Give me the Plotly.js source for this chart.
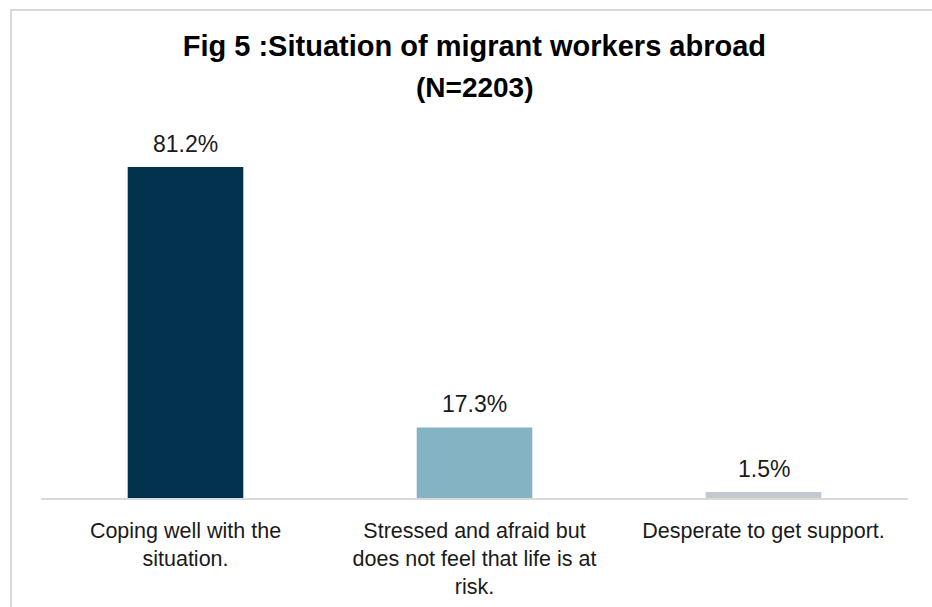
<!DOCTYPE html>
<html><head><meta charset="utf-8">
<script src="https://cdn.plot.ly/plotly-3.0.1.min.js"></script>
<style>html,body{margin:0;padding:0;background:#fff;}#chart{width:932px;height:607px;}</style>
</head><body><div id="chart"></div>
<script>
const categories = ["Coping well with the<br>situation.", "Stressed and afraid but<br>does not feel that life is at<br>risk.", "Desperate to get support."];
const values = [81.2, 17.3, 1.5];
const labels = ["81.2%", "17.3%", "1.5%"];
const colors = ["#03324E", "#84B3C4", "#C3C9CE"];
const titleLine1 = "Fig 5 :Situation of migrant workers abroad";
const titleLine2 = "(N=2203)";

const FONT = "Arial, 'Liberation Sans', sans-serif";
const trace = {
  type: "bar", x: categories, y: values,
  marker: {color: colors, line: {width: 0}},
  hoverinfo: "skip"
};
const annotations = categories.map((c, i) => ({
  x: c, y: values[i], xref: "x", yref: "y", text: labels[i], showarrow: false,
  yanchor: "bottom", yshift: 8, font: {family: FONT, size: 23, color: "#1a1a1a"}
}));
annotations.push({
  x: 0.5, xref: "paper", xanchor: "center", y: (498 - 70) / 367, yref: "paper", yanchor: "top",
  text: "<b>" + titleLine2 + "</b>", showarrow: false, font: {family: FONT, size: 28, color: "#000"}
});
const layout = {
  width: 932, height: 607,
  margin: {l: 41, r: 24, t: 131, b: 109},
  paper_bgcolor: "#fff", plot_bgcolor: "#fff",
  showlegend: false, bargap: 0.6,
  title: {text: "<b>" + titleLine1 + "</b>", x: 0.509, xanchor: "center", y: 1 - 36/607, yanchor: "top", font: {family: FONT, size: 29, color: "#000"}},
  xaxis: {showline: true, linecolor: "#d9d9d9", linewidth: 2, ticks: "", tickfont: {family: FONT, size: 21.5, color: "#1a1a1a"}, ticklabelstandoff: 12, fixedrange: true},
  yaxis: {range: [0, 90], visible: false, showgrid: false, zeroline: false, fixedrange: true},
  annotations: annotations,
  shapes: [{type: "rect", xref: "paper", yref: "paper", x0: (11-41)/867, x1: 1.2, y0: -0.6, y1: (498-10)/367, line: {color: "#d9d9d9", width: 2}, fillcolor: "rgba(0,0,0,0)", layer: "below"}]
};
Plotly.newPlot("chart", [trace], layout, {displayModeBar: false, staticPlot: true});
</script></body></html>
